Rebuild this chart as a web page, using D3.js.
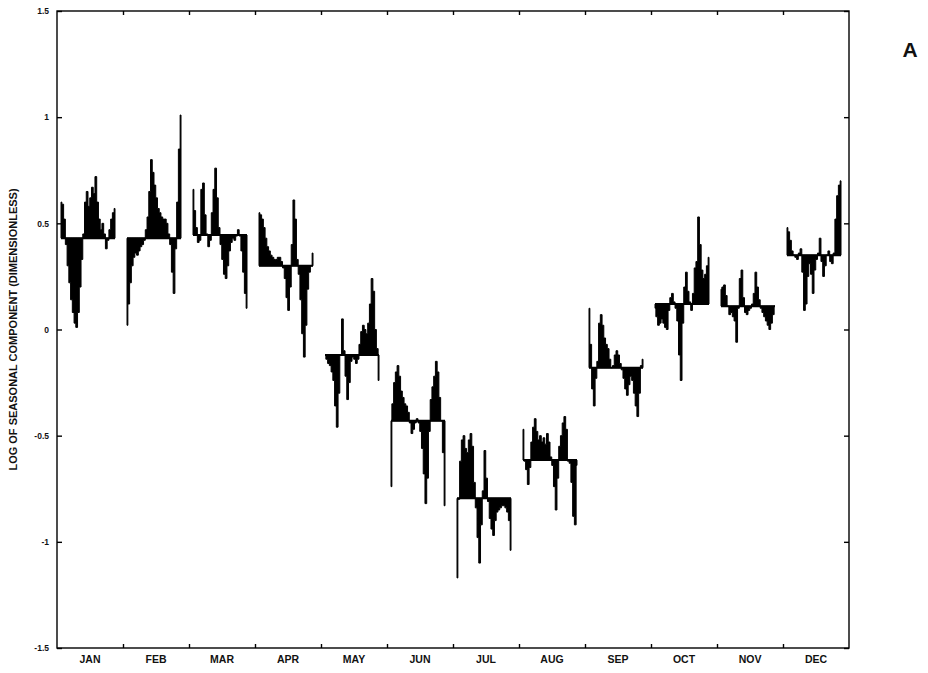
<!DOCTYPE html>
<html>
<head>
<meta charset="utf-8">
<script src="https://cdn.jsdelivr.net/npm/d3@7"></script>
<style>
  html, body { margin: 0; padding: 0; background: #fff; }
  svg { display: block; }
  text { font-family: "Liberation Sans", Arial, sans-serif; fill: #111; }
</style>
</head>
<body>
<svg id="chart" width="928" height="673"></svg>
<script>
// Month categories of the cycle (sub-series) plot
const months = ["JAN", "FEB", "MAR", "APR", "MAY", "JUN", "JUL", "AUG", "SEP", "OCT", "NOV", "DEC"];

// Mean of each month's sub-series (horizontal reference line)
const monthMeans = [0.43, 0.43, 0.445, 0.30, -0.12, -0.43, -0.795, -0.615, -0.18, 0.12, 0.11, 0.35];

// Year-by-year log seasonal component for each month
const jan = [0.60, 0.59, 0.52, 0.40, 0.30, 0.22, 0.14, 0.08, 0.03, 0.01, 0.08, 0.20, 0.33, 0.45, 0.60, 0.65,
             0.58, 0.62, 0.67, 0.64, 0.72, 0.60, 0.52, 0.47, 0.50, 0.45, 0.38, 0.42, 0.47, 0.52, 0.55, 0.57];
const feb = [0.02, 0.12, 0.22, 0.30, 0.34, 0.36, 0.35, 0.37, 0.39, 0.40, 0.42, 0.47, 0.53, 0.65, 0.80, 0.74,
             0.68, 0.62, 0.57, 0.55, 0.53, 0.52, 0.52, 0.50, 0.45, 0.40, 0.27, 0.17, 0.38, 0.60, 0.85, 1.01];
const mar = [0.66, 0.56, 0.48, 0.41, 0.42, 0.66, 0.69, 0.54, 0.45, 0.39, 0.42, 0.55, 0.66, 0.76, 0.62, 0.48,
             0.40, 0.33, 0.26, 0.24, 0.30, 0.37, 0.41, 0.43, 0.42, 0.44, 0.47, 0.44, 0.37, 0.27, 0.17, 0.10];
const apr = [0.55, 0.54, 0.52, 0.48, 0.43, 0.39, 0.37, 0.35, 0.34, 0.33, 0.33, 0.34, 0.34, 0.32, 0.29, 0.24,
             0.15, 0.09, 0.20, 0.40, 0.61, 0.52, 0.33, 0.26, 0.14, -0.02, -0.13, 0.02, 0.19, 0.27, 0.30, 0.36];
const may = [-0.12, -0.14, -0.16, -0.17, -0.20, -0.24, -0.36, -0.46, -0.30, -0.12, 0.05, -0.10, -0.22, -0.33, -0.25, -0.15,
             -0.13, -0.14, -0.16, -0.14, -0.07, -0.01, 0.02, 0.00, -0.02, 0.03, 0.12, 0.24, 0.18, 0.00, -0.09, -0.24];
const jun = [-0.74, -0.35, -0.25, -0.20, -0.17, -0.22, -0.29, -0.32, -0.35, -0.36, -0.39, -0.44, -0.49, -0.47, -0.44, -0.42,
             -0.44, -0.48, -0.56, -0.68, -0.82, -0.70, -0.48, -0.33, -0.27, -0.22, -0.15, -0.20, -0.32, -0.43, -0.58, -0.83];
const jul = [-1.17, -0.80, -0.62, -0.52, -0.50, -0.56, -0.58, -0.52, -0.49, -0.55, -0.72, -0.84, -0.98, -1.10, -0.92, -0.76,
             -0.57, -0.70, -0.81, -0.89, -0.94, -0.97, -0.90, -0.86, -0.85, -0.84, -0.83, -0.83, -0.84, -0.86, -0.90, -1.04];
const aug = [-0.47, -0.62, -0.66, -0.73, -0.65, -0.53, -0.46, -0.42, -0.48, -0.52, -0.50, -0.53, -0.51, -0.54, -0.49, -0.53,
             -0.60, -0.64, -0.74, -0.85, -0.70, -0.55, -0.50, -0.44, -0.41, -0.47, -0.62, -0.63, -0.72, -0.88, -0.92, -0.64];
const sep = [0.10, -0.07, -0.28, -0.36, -0.23, -0.15, 0.03, 0.07, 0.02, -0.04, -0.07, -0.09, -0.14, -0.18, -0.17, -0.12,
             -0.10, -0.12, -0.16, -0.19, -0.23, -0.28, -0.31, -0.26, -0.22, -0.24, -0.30, -0.36, -0.41, -0.30, -0.17, -0.14];
const oct = [0.10, 0.06, 0.02, 0.03, 0.05, 0.03, 0.01, 0.00, 0.09, 0.15, 0.17, 0.13, 0.10, 0.04, -0.12, -0.24,
             0.03, 0.20, 0.27, 0.18, 0.13, 0.09, 0.17, 0.29, 0.32, 0.53, 0.40, 0.28, 0.24, 0.26, 0.30, 0.34];
const nov = [0.19, 0.20, 0.21, 0.16, 0.11, 0.07, 0.08, 0.06, 0.04, -0.06, 0.10, 0.24, 0.28, 0.15, 0.08, 0.07,
             0.09, 0.10, 0.12, 0.17, 0.27, 0.20, 0.14, 0.10, 0.08, 0.06, 0.04, 0.02, 0.00, 0.03, 0.07, 0.11];
const dec = [0.48, 0.46, 0.42, 0.37, 0.35, 0.34, 0.33, 0.36, 0.38, 0.27, 0.09, 0.12, 0.25, 0.31, 0.26, 0.17,
             0.28, 0.33, 0.36, 0.43, 0.32, 0.25, 0.30, 0.35, 0.37, 0.32, 0.31, 0.36, 0.52, 0.63, 0.68, 0.70];
const monthSeries = [jan, feb, mar, apr, may, jun, jul, aug, sep, oct, nov, dec];

// Y axis ticks and their printed labels
const yTicks = [-1.5, -1, -0.5, 0, 0.5, 1, 1.5];
const yTickLabels = ["-1.5", "-1", "-0.5", "0", "0.5", "1", "1.5"];

const svg = d3.select("#chart");
const plot = { left: 57, right: 849, top: 11, bottom: 648 };

const y = d3.scaleLinear().domain([-1.5, 1.5]).range([plot.bottom, plot.top]);
const xMonth = d3.scaleBand().domain(months).range([plot.left, plot.right]).padding(0);
const xBound = d3.scaleLinear().domain([0, 12]).range([plot.left, plot.right]);

// Sub-series inset within each month cell
const inset = 4, span = 54;

months.forEach((m, i) => {
  const vals = monthSeries[i];
  const mean = monthMeans[i];
  const x0 = xMonth(m) + inset;
  const xi = d3.scaleLinear().domain([0, vals.length - 1]).range([x0, x0 + span]);

  const area = d3.area()
    .x((d, k) => xi(k))
    .y0(y(mean))
    .y1(d => y(d))
    .curve(d3.curveStep);

  svg.append("path")
    .datum(vals)
    .attr("d", area)
    .attr("fill", "#000")
    .attr("stroke", "#000")
    .attr("stroke-width", 1)
    .attr("stroke-linejoin", "miter");

  svg.append("line")
    .attr("x1", xi(0)).attr("x2", xi(vals.length - 1))
    .attr("y1", y(mean)).attr("y2", y(mean))
    .attr("stroke", "#000").attr("stroke-width", 2);
});

// Frame
svg.append("rect")
  .attr("x", plot.left).attr("y", plot.top)
  .attr("width", plot.right - plot.left).attr("height", plot.bottom - plot.top)
  .attr("fill", "none").attr("stroke", "#000").attr("stroke-width", 1.4);

// Left axis with inward ticks
const leftAxis = svg.append("g")
  .attr("transform", `translate(${plot.left},0)`)
  .call(d3.axisLeft(y).tickValues(yTicks).tickSize(-5).tickPadding(8)
    .tickFormat((d, i) => yTickLabels[i]));
leftAxis.select(".domain").remove();
leftAxis.selectAll("line").attr("stroke", "#000").attr("stroke-width", 1.4);
leftAxis.selectAll("text")
  .attr("font-size", 8.5).attr("font-weight", "bold")
  .style("font-family", "'Liberation Sans', Arial, sans-serif");

// Right axis ticks (inward, unlabeled)
const rightAxis = svg.append("g")
  .attr("transform", `translate(${plot.right},0)`)
  .call(d3.axisRight(y).tickValues(yTicks).tickSize(-5).tickFormat(""));
rightAxis.select(".domain").remove();
rightAxis.selectAll("line").attr("stroke", "#000").attr("stroke-width", 1.4);

// Month boundary ticks on bottom and top
const bounds = d3.range(1, 12);
const bottomTicks = svg.append("g")
  .attr("transform", `translate(0,${plot.bottom})`)
  .call(d3.axisBottom(xBound).tickValues(bounds).tickSize(-4).tickFormat(""));
bottomTicks.select(".domain").remove();
bottomTicks.selectAll("line").attr("stroke", "#000").attr("stroke-width", 1.4);

const topTicks = svg.append("g")
  .attr("transform", `translate(0,${plot.top})`)
  .call(d3.axisTop(xBound).tickValues(bounds).tickSize(-4).tickFormat(""));
topTicks.select(".domain").remove();
topTicks.selectAll("line").attr("stroke", "#000").attr("stroke-width", 1.4);

// Month labels
const monthAxis = svg.append("g")
  .attr("transform", `translate(0,${plot.bottom})`)
  .call(d3.axisBottom(xMonth).tickSize(0).tickPadding(8));
monthAxis.select(".domain").remove();
monthAxis.selectAll("text")
  .attr("font-size", 10.5).attr("font-weight", "bold")
  .style("font-family", "'Liberation Sans', Arial, sans-serif");

// Y axis title
svg.append("text")
  .attr("transform", `translate(17,${(plot.top + plot.bottom) / 2}) rotate(-90)`)
  .attr("text-anchor", "middle")
  .attr("font-size", 11).attr("font-weight", "bold")
  .text("LOG OF SEASONAL COMPONENT (DIMENSIONLESS)");

// Panel letter
svg.append("text")
  .attr("x", 910).attr("y", 57)
  .attr("text-anchor", "middle")
  .attr("font-size", 21).attr("font-weight", "bold")
  .style("font-family", "'Liberation Sans', Arial, sans-serif")
  .text("A");
</script>
</body>
</html>
